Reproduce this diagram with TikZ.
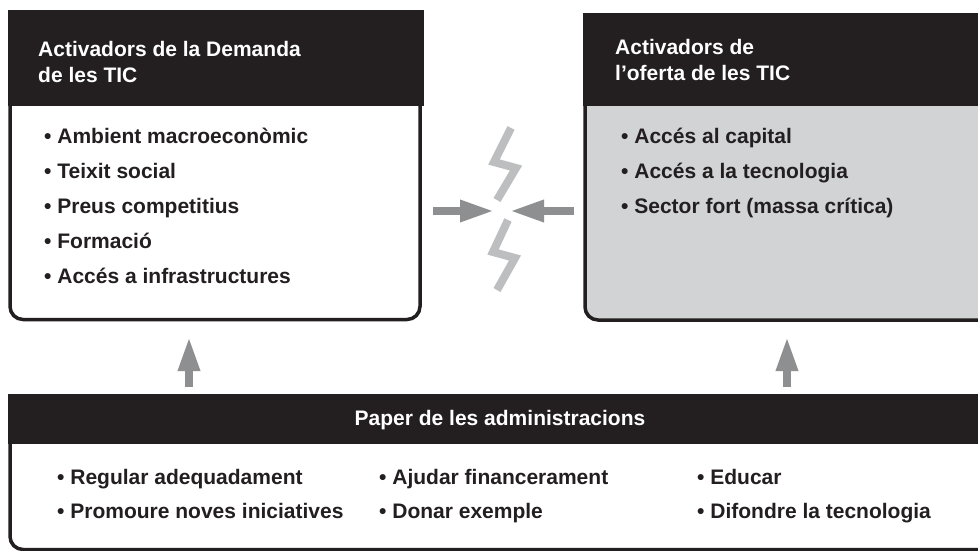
\documentclass[tikz,border=0pt]{standalone}
\usepackage{fontspec}
\setmainfont{Liberation Sans}
\usetikzlibrary{arrows.meta}
\definecolor{hdr}{HTML}{231F20}
\definecolor{graybody}{HTML}{D1D3D4}
\definecolor{arrowgray}{HTML}{8E8F91}
\definecolor{boltgray}{HTML}{BDBEC0}
\begin{document}
\begin{tikzpicture}[x=1pt,y=-1pt,
  hdrtext/.style={anchor=base west, inner sep=0pt, text=white, font=\fontsize{21}{25}\selectfont\bfseries},
  bodytext/.style={anchor=base west, inner sep=0pt, text=hdr, font=\fontsize{21}{25}\selectfont\bfseries},
  boxline/.style={draw=hdr, line width=3.5pt, rounded corners=13pt},
  hdrbox/.style={fill=hdr, draw=none, inner sep=0pt, anchor=north west},
  bigarrow/.style={draw=arrowgray, line width=8.5pt, -{Triangle[length=35pt,width=20pt]}},
  bolt/.style={draw=boltgray, line width=8pt, line join=miter, miter limit=10}
]
\useasboundingbox (0,0) rectangle (978,551);
\clip (0,0) rectangle (978,551);
\fill[white] (0,0) rectangle (978,551);

% ---- left box: demand
\draw[boxline, fill=white] (10,100) -- (10,319.5) -- (420,319.5) -- (420,100);
\node (dhdr) [hdrbox, minimum width=416pt, minimum height=96pt] at (8,10) {};
\node (dt1) [hdrtext] at (38,57) {Activadors de la Demanda};
\node (dt2) [hdrtext] at (38,83) {de les TIC};
\node (d1) [bodytext] at (44,143) {• Ambient macroeconòmic};
\node (d2) [bodytext] at (44,178) {• Teixit social};
\node (d3) [bodytext] at (44,213) {• Preus competitius};
\node (d4) [bodytext] at (44,248) {• Formació};
\node (d5) [bodytext] at (44,283) {• Accés a infrastructures};

% ---- right box: supply
\draw[boxline, fill=graybody] (585,100) -- (585,320) -- (995,320) -- (995,100);
\node (ohdr) [hdrbox, minimum width=410pt, minimum height=93pt] at (583,13) {};
\node (ot1) [hdrtext] at (615,55) {Activadors de};
\node (ot2) [hdrtext] at (615,81) {l’oferta de les TIC};
\node (o1) [bodytext] at (621,143) {• Accés al capital};
\node (o2) [bodytext] at (621,178) {• Accés a la tecnologia};
\node (o3) [bodytext] at (621,213) {• Sector fort (massa crítica)};

% ---- bottom box
\draw[boxline, fill=white] (10,440) -- (10,549.5) -- (995,549.5) -- (995,440);
\node (phdr) [hdrbox, minimum width=990pt, minimum height=50pt] at (8,394) {};
\node (pt) [anchor=base, inner sep=0pt, text=white, font=\fontsize{21}{25}\selectfont\bfseries] at (500,425) {Paper de les administracions};
\node (p1) [bodytext] at (57,484) {• Regular adequadament};
\node (p2) [bodytext] at (57,518) {• Promoure noves iniciatives};
\node (p3) [bodytext] at (379,484) {• Ajudar financerament};
\node (p4) [bodytext] at (379,518) {• Donar exemple};
\node (p5) [bodytext] at (697,484) {• Educar};
\node (p6) [bodytext] at (697,518) {• Difondre la tecnologia};

% ---- lightning bolts
\draw[bolt] (511,128) -- (494,162) -- (516,168) -- (497,200);
\draw[bolt] (508,220) -- (493,252) -- (515,258) -- (497,290);

% ---- arrows
\coordinate (lA) at (433,211);
\coordinate (lB) at (495,211);
\coordinate (rA) at (574,211);
\coordinate (rB) at (509,211);
\coordinate (uA) at (189,387);
\coordinate (uB) at (189,336);
\coordinate (vA) at (787,387);
\coordinate (vB) at (787,336);
\draw[bigarrow] (lA) -- (lB);
\draw[bigarrow] (rA) -- (rB);
\draw[bigarrow] (uA) -- (uB);
\draw[bigarrow] (vA) -- (vB);
\end{tikzpicture}
\end{document}
